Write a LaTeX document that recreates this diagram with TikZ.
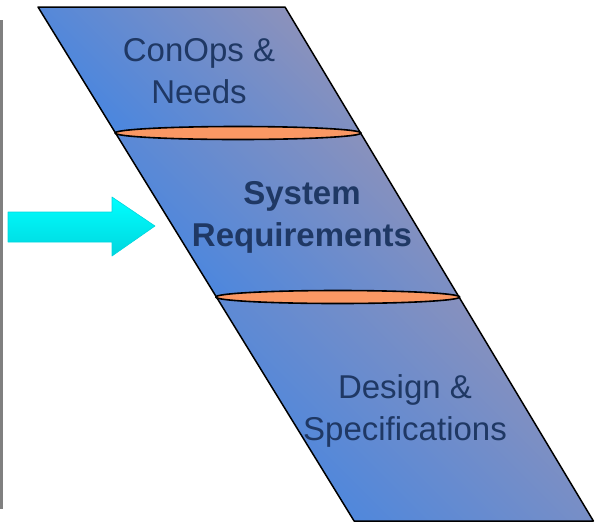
\documentclass[tikz,border=0pt]{standalone}
\usepackage{fontspec}
\setmainfont{Liberation Sans}
\usetikzlibrary{shapes.geometric,calc}
\definecolor{bandblue}{RGB}{72,134,224}
\definecolor{bandgray}{RGB}{142,146,186}
\definecolor{navy}{RGB}{31,56,100}
\definecolor{gatefill}{RGB}{250,152,100}
\definecolor{arrowtop}{RGB}{0,255,255}
\definecolor{arrowbot}{RGB}{0,214,222}

\begin{document}
\begin{tikzpicture}[x=1pt, y=-1pt, line join=round,
  band/.style={draw=black, line width=1.5pt, top color=bandgray, bottom color=bandblue, shading angle=-45},
  gate/.style={ellipse, draw=black, line width=1.6pt, fill=gatefill, inner sep=0pt, minimum height=13pt},
  lbl/.style={text=navy, align=center, font=\fontsize{33}{42}\selectfont},
  pointer/.style={top color=arrowtop, bottom color=arrowbot, draw=arrowbot, line width=0.6pt}]
\useasboundingbox (0,0) rectangle (597,523);
% corners of the slanted band
\coordinate (l0) at (38,7);     \coordinate (r0) at (285,7);
\coordinate (l1) at (115.5,133); \coordinate (r1) at (360.6,133);
\coordinate (l2) at (216.4,297); \coordinate (r2) at (459,297);
\coordinate (l3) at (354.1,521); \coordinate (r3) at (593.4,521);
% three stages
\path[band] (l0) -- (r0) -- (r1) -- (l1) -- cycle;
\path[band] (l1) -- (r1) -- (r2) -- (l2) -- cycle;
\path[band] (l2) -- (r2) -- (r3) -- (l3) -- cycle;
% gates between stages
\node[gate, minimum width=246pt] (gate1) at ($(l1)!0.5!(r1)$) {};
\node[gate, minimum width=244pt] (gate2) at ($(l2)!0.5!(r2)$) {};
% labels
\node[lbl] (conops) at (199,71) {ConOps \&\\Needs};
\node[lbl, font=\fontsize{33}{42}\selectfont\bfseries] (sysreq) at (302,217) {System\\Requirements};
\node[lbl] (design) at (405,411) {Design \&\\Specifications};
% marker arrow and side rule
\path[pointer] (8,212) -- (112,212) -- (112,197) -- (155,226) -- (112,256) -- (112,242) -- (8,242) -- cycle;
\draw[gray, line width=3pt] (1.5,20) -- (1.5,509);
\end{tikzpicture}
\end{document}
